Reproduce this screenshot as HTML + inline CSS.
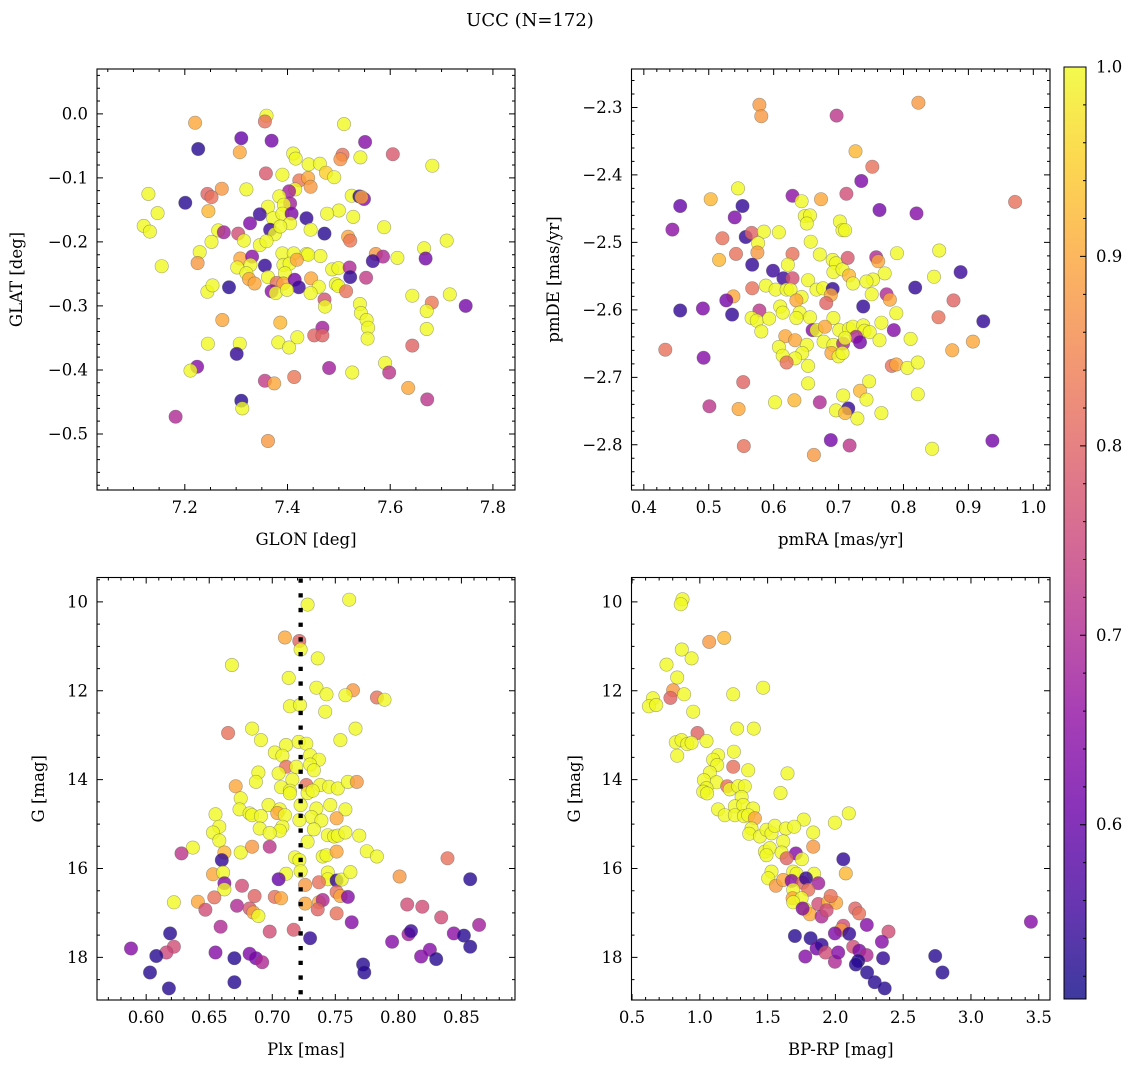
<!DOCTYPE html>
<html><head><meta charset="utf-8"><style>
html,body{margin:0;padding:0;background:#fff;}
svg text{font-family:"DejaVu Serif","Liberation Serif",serif;fill:#000;}
</style></head><body>
<svg id="fig" width="1136" height="1067" viewBox="0 0 1136 1067" xmlns="http://www.w3.org/2000/svg">
<text x="530" y="26" font-size="18" text-anchor="middle">UCC (N=172)</text>
</svg>
<script>
// ---- Panel 1: GLON vs GLAT ----
const p1x=[7.359,7.356,7.220,7.510,7.310,7.369,7.551,7.226,7.307,7.605,7.411,7.416,7.507,7.503,7.542,7.682,7.441,7.463,7.475,7.491,7.358,7.390,7.423,7.440,7.445,7.415,7.403,7.272,7.320,7.244,7.252,7.129,7.384,7.405,7.393,7.362,7.201,7.525,7.540,7.549,7.544,7.500,7.477,7.528,7.147,7.246,7.346,7.372,7.390,7.408,7.405,7.437,7.327,7.120,7.132,7.265,7.276,7.366,7.375,7.386,7.445,7.472,7.588,7.304,7.315,7.252,7.346,7.359,7.518,7.522,7.710,7.666,7.669,7.229,7.390,7.412,7.437,7.464,7.440,7.572,7.586,7.566,7.614,7.308,7.331,7.328,7.302,7.155,7.225,7.356,7.392,7.404,7.395,7.418,7.487,7.499,7.521,7.522,7.553,7.320,7.325,7.336,7.362,7.379,7.392,7.414,7.422,7.369,7.377,7.399,7.446,7.461,7.445,7.494,7.499,7.514,7.286,7.244,7.254,7.643,7.716,7.681,7.671,7.747,7.472,7.473,7.541,7.543,7.554,7.557,7.556,7.273,7.386,7.468,7.452,7.468,7.671,7.382,7.403,7.419,7.245,7.307,7.301,7.643,7.590,7.598,7.224,7.211,7.481,7.526,7.356,7.374,7.413,7.635,7.672,7.310,7.312,7.182,7.362];
const p1y=[-0.003,-0.012,-0.014,-0.016,-0.038,-0.042,-0.044,-0.055,-0.060,-0.063,-0.062,-0.070,-0.064,-0.071,-0.068,-0.081,-0.079,-0.078,-0.092,-0.099,-0.093,-0.095,-0.104,-0.100,-0.114,-0.118,-0.121,-0.117,-0.118,-0.125,-0.130,-0.125,-0.129,-0.140,-0.142,-0.145,-0.139,-0.128,-0.129,-0.133,-0.130,-0.151,-0.156,-0.161,-0.155,-0.152,-0.157,-0.163,-0.156,-0.156,-0.171,-0.163,-0.171,-0.175,-0.184,-0.182,-0.185,-0.181,-0.188,-0.176,-0.181,-0.187,-0.177,-0.187,-0.198,-0.200,-0.205,-0.199,-0.192,-0.198,-0.198,-0.210,-0.226,-0.216,-0.218,-0.218,-0.219,-0.222,-0.220,-0.219,-0.223,-0.230,-0.225,-0.226,-0.223,-0.236,-0.240,-0.238,-0.233,-0.237,-0.236,-0.234,-0.249,-0.228,-0.243,-0.241,-0.240,-0.255,-0.256,-0.249,-0.258,-0.265,-0.255,-0.264,-0.265,-0.259,-0.271,-0.277,-0.280,-0.275,-0.257,-0.270,-0.280,-0.266,-0.269,-0.277,-0.271,-0.278,-0.268,-0.284,-0.282,-0.295,-0.308,-0.300,-0.290,-0.301,-0.297,-0.311,-0.322,-0.334,-0.351,-0.322,-0.326,-0.334,-0.346,-0.346,-0.336,-0.357,-0.365,-0.349,-0.359,-0.359,-0.375,-0.362,-0.389,-0.404,-0.395,-0.401,-0.397,-0.404,-0.417,-0.421,-0.411,-0.428,-0.446,-0.448,-0.460,-0.473,-0.511];
const p1c=[1,0.82,0.9,1,0.6,0.62,0.64,0.53,0.9,0.78,1,1,0.82,0.87,1,1,1,1,0.95,1,0.78,1,0.83,0.9,0.88,1,0.68,0.88,1,0.8,0.82,1,1,0.68,1,1,0.53,1,0.54,0.64,0.9,1,1,1,1,0.92,0.55,1,1,0.63,1,0.54,0.63,1,1,1,0.68,0.55,1,1,1,0.53,1,0.76,1,1,1,1,0.9,0.83,1,1,0.62,1,1,1,1,1,1,0.88,0.7,0.55,1,0.9,0.65,1,1,1,0.88,0.54,1,1,1,0.9,1,1,0.7,0.54,0.73,1,0.9,0.9,1,0.82,0.9,0.62,0.55,0.65,1,1,0.9,1,1,1,1,0.82,0.53,1,1,1,1,0.83,1,0.62,0.77,1,1,1,1,1,1,0.9,0.92,0.68,0.8,0.8,1,1,1,1,1,1,0.54,0.8,1,0.72,0.64,1,0.68,1,0.73,0.9,0.83,0.9,0.72,0.53,1,0.7,0.88];
const p1xTicks=[7.2,7.4,7.6,7.8];
const p1yTicks=[0.0,-0.1,-0.2,-0.3,-0.4,-0.5];

// ---- Panel 2: pmRA vs pmDE ----
const p2x=[0.578,0.581,0.823,0.697,0.726,0.752,0.735,0.545,0.503,0.456,0.552,0.629,0.643,0.673,0.712,0.972,0.763,0.820,0.540,0.444,0.648,0.656,0.651,0.702,0.706,0.710,0.521,0.557,0.566,0.585,0.608,0.576,0.657,0.542,0.575,0.516,0.629,0.790,0.855,0.567,0.599,0.615,0.629,0.622,0.671,0.691,0.696,0.692,0.706,0.716,0.722,0.714,0.758,0.761,0.771,0.753,0.743,0.847,0.888,0.653,0.666,0.676,0.818,0.588,0.603,0.620,0.626,0.567,0.538,0.527,0.691,0.688,0.681,0.643,0.635,0.640,0.751,0.774,0.779,0.877,0.738,0.456,0.491,0.536,0.610,0.614,0.635,0.656,0.578,0.566,0.574,0.593,0.581,0.692,0.789,0.766,0.854,0.923,0.660,0.666,0.679,0.701,0.716,0.722,0.738,0.740,0.748,0.727,0.733,0.785,0.811,0.763,0.618,0.633,0.677,0.692,0.707,0.710,0.651,0.608,0.644,0.614,0.633,0.689,0.700,0.706,0.433,0.492,0.907,0.875,0.620,0.653,0.782,0.789,0.806,0.822,0.553,0.653,0.747,0.733,0.743,0.707,0.822,0.602,0.632,0.671,0.501,0.546,0.715,0.696,0.710,0.729,0.766,0.688,0.717,0.554,0.662,0.844,0.937];
const p2y=[-2.296,-2.313,-2.293,-2.312,-2.365,-2.388,-2.409,-2.420,-2.436,-2.446,-2.446,-2.431,-2.439,-2.436,-2.428,-2.440,-2.452,-2.457,-2.463,-2.481,-2.461,-2.460,-2.472,-2.469,-2.482,-2.482,-2.494,-2.492,-2.486,-2.484,-2.485,-2.501,-2.499,-2.517,-2.515,-2.526,-2.517,-2.516,-2.512,-2.533,-2.542,-2.553,-2.553,-2.533,-2.518,-2.526,-2.531,-2.544,-2.540,-2.549,-2.561,-2.523,-2.522,-2.528,-2.546,-2.555,-2.558,-2.551,-2.544,-2.556,-2.570,-2.568,-2.567,-2.564,-2.570,-2.570,-2.570,-2.568,-2.580,-2.586,-2.569,-2.578,-2.590,-2.581,-2.586,-2.604,-2.577,-2.577,-2.585,-2.586,-2.595,-2.601,-2.598,-2.607,-2.595,-2.604,-2.612,-2.611,-2.601,-2.612,-2.616,-2.613,-2.632,-2.612,-2.605,-2.619,-2.611,-2.617,-2.630,-2.630,-2.625,-2.630,-2.628,-2.625,-2.623,-2.631,-2.633,-2.640,-2.648,-2.630,-2.643,-2.645,-2.639,-2.645,-2.647,-2.652,-2.650,-2.642,-2.652,-2.655,-2.664,-2.668,-2.672,-2.664,-2.669,-2.664,-2.659,-2.671,-2.647,-2.660,-2.678,-2.683,-2.683,-2.681,-2.686,-2.678,-2.707,-2.709,-2.706,-2.720,-2.733,-2.727,-2.725,-2.737,-2.734,-2.737,-2.743,-2.747,-2.746,-2.749,-2.753,-2.761,-2.753,-2.793,-2.801,-2.802,-2.815,-2.806,-2.794];
const p2c=[0.88,0.88,0.88,0.72,0.92,0.82,0.63,1,0.92,0.6,0.54,0.65,1,0.9,0.76,0.82,0.62,0.64,0.63,0.65,1,1,1,1,1,1,0.82,0.54,0.8,1,1,1,1,0.82,0.88,0.92,0.82,1,1,0.54,0.55,0.55,0.77,1,1,1,1,1,1,0.92,1,0.78,0.7,0.9,1,1,1,1,0.55,1,1,1,0.54,1,1,1,1,0.82,0.9,0.62,0.54,0.9,0.8,1,0.9,1,1,0.7,0.9,0.8,0.54,0.54,0.63,0.54,1,1,1,1,0.72,1,1,1,1,1,1,1,0.82,0.54,0.64,1,0.9,1,1,1,1,1,1,0.7,0.62,0.64,1,1,0.9,0.9,1,1,0.7,1,1,1,1,1,1,0.9,1,1,0.82,0.64,0.9,0.9,0.82,1,0.82,0.9,1,1,0.8,1,1,0.92,1,1,1,1,0.92,0.7,0.72,0.9,0.54,1,0.92,1,1,0.62,0.72,0.82,0.88,1,0.62];
const p2xTicks=[0.4,0.5,0.6,0.7,0.8,0.9,1.0];
const p2yTicks=[-2.3,-2.4,-2.5,-2.6,-2.7,-2.8];

// ---- Panel 3: Plx vs G ----
const p3x=[0.761,0.728,0.710,0.7214,0.7225,0.736,0.668,0.713,0.735,0.743,0.764,0.758,0.783,0.789,0.714,0.722,0.742,0.665,0.684,0.691,0.766,0.754,0.711,0.721,0.727,0.702,0.708,0.711,0.719,0.730,0.737,0.730,0.733,0.689,0.705,0.687,0.716,0.727,0.738,0.745,0.752,0.760,0.767,0.671,0.675,0.674,0.707,0.714,0.714,0.728,0.732,0.7225,0.697,0.706,0.704,0.682,0.684,0.691,0.710,0.708,0.706,0.735,0.746,0.758,0.731,0.739,0.751,0.7215,0.655,0.658,0.653,0.658,0.690,0.698,0.733,0.744,0.749,0.752,0.758,0.769,0.728,0.637,0.628,0.662,0.660,0.675,0.684,0.698,0.775,0.783,0.839,0.718,0.7215,0.740,0.743,0.751,0.653,0.661,0.711,0.7225,0.705,0.744,0.744,0.737,0.751,0.755,0.762,0.726,0.801,0.857,0.662,0.662,0.676,0.654,0.641,0.622,0.686,0.702,0.707,0.751,0.754,0.760,0.726,0.737,0.740,0.736,0.807,0.819,0.647,0.672,0.682,0.685,0.689,0.751,0.763,0.834,0.864,0.659,0.698,0.717,0.619,0.622,0.616,0.608,0.588,0.603,0.618,0.655,0.682,0.687,0.692,0.670,0.670,0.730,0.772,0.773,0.795,0.808,0.810,0.818,0.825,0.830,0.844,0.852,0.857];
const p3y=[9.95,10.06,10.80,10.88,11.07,11.27,11.42,11.71,11.93,12.08,11.99,12.10,12.15,12.20,12.35,12.32,12.47,12.95,12.85,13.11,12.85,13.11,13.22,13.15,13.19,13.39,13.46,13.71,13.71,13.45,13.55,13.66,13.79,13.84,13.86,14.05,14.00,14.12,14.12,14.16,14.20,14.05,14.05,14.15,14.42,14.67,14.17,14.25,14.31,14.30,14.25,14.57,14.57,14.67,14.75,14.76,14.80,14.82,14.80,15.06,15.15,14.65,14.57,14.67,14.84,14.92,14.87,14.91,14.78,15.06,15.19,15.37,15.10,15.20,15.12,15.25,15.28,15.26,15.19,15.26,15.40,15.53,15.66,15.64,15.81,15.64,15.51,15.51,15.61,15.73,15.77,15.75,15.81,15.73,15.70,15.62,16.13,16.09,16.12,16.06,16.24,16.09,16.24,16.31,16.27,16.25,16.08,16.37,16.18,16.24,16.33,16.47,16.39,16.65,16.75,16.76,16.62,16.64,16.67,16.53,16.62,16.64,16.79,16.76,16.71,16.92,16.81,16.86,16.93,16.84,16.90,16.99,17.07,17.01,17.21,17.10,17.27,17.31,17.42,17.38,17.46,17.76,17.89,17.97,17.80,18.34,18.70,17.89,17.92,18.02,18.11,18.02,18.56,17.57,18.16,18.34,17.65,17.48,17.41,17.98,17.83,18.04,17.46,17.51,17.76];
const p3c=[1,1,0.9,0.8,1,1,1,1,1,1,0.88,1,0.82,1,1,1,1,0.82,1,1,1,1,1,1,1,1,1,0.82,1,1,1,1,1,1,1,1,1,0.82,1,1,1,1,0.88,0.9,1,1,1,1,1,1,1,1,1,1,0.9,1,1,1,1,1,1,1,1,1,1,1,0.9,1,1,1,1,1,1,1,1,1,1,1,1,1,1,1,0.72,0.92,0.54,1,0.88,0.72,1,1,0.82,1,1,1,1,0.9,0.9,1,1,1,0.6,1,1,0.82,0.54,1,1,0.88,0.88,0.53,0.64,1,0.76,0.82,0.9,1,0.8,0.82,0.9,0.82,0.9,0.64,0.9,0.9,0.7,0.8,0.76,0.76,0.76,0.7,0.78,0.9,1,0.82,0.64,0.76,0.68,0.7,0.76,0.78,0.53,0.76,0.75,0.53,0.64,0.53,0.53,0.64,0.63,0.62,0.7,0.53,0.53,0.54,0.53,0.53,0.64,0.68,0.55,0.64,0.64,0.53,0.65,0.53,0.53];
const p3xTicks=[0.60,0.65,0.70,0.75,0.80,0.85];
const p3yTicks=[10,12,14,16,18];
const p3vline=[0.7225];

// ---- Panel 4: BP-RP vs G ----
const p4x=[0.872,0.860,1.069,1.180,0.867,0.939,0.754,0.833,0.803,0.783,0.884,0.654,0.624,0.678,1.246,1.467,0.951,0.983,1.275,1.398,0.823,0.865,0.907,0.939,1.049,0.833,1.251,1.246,1.135,1.098,1.128,1.074,1.123,1.357,1.647,1.030,1.049,1.025,1.054,1.202,1.221,1.283,1.332,1.308,1.595,1.135,1.184,1.259,1.259,1.320,1.325,1.393,1.357,1.406,1.767,1.996,2.099,1.381,1.364,1.443,1.492,1.529,1.553,1.634,1.696,1.836,1.836,1.615,1.480,1.516,1.492,1.603,1.709,1.640,1.753,2.058,2.077,1.689,1.714,1.843,1.529,1.504,1.561,1.615,1.677,1.758,1.783,1.874,1.689,1.800,1.684,1.751,1.689,1.776,1.812,1.758,1.874,1.898,1.948,2.005,1.965,1.935,2.146,2.175,2.232,2.058,2.042,1.996,2.102,2.392,2.343,3.442,1.701,1.817,1.861,1.898,1.927,1.778,1.996,2.021,2.131,2.176,2.230,2.168,2.151,2.352,2.234,2.290,2.364,2.736,2.790];
const p4y=[9.94,10.05,10.90,10.81,11.07,11.27,11.41,11.70,11.99,12.16,12.08,12.17,12.35,12.32,12.08,11.93,12.47,12.95,12.85,12.85,13.16,13.11,13.20,13.17,13.13,13.46,13.37,13.71,13.45,13.55,13.67,13.84,14.06,13.79,13.86,14.01,14.19,14.27,14.31,14.15,14.22,14.15,14.15,14.39,14.30,14.67,14.80,14.60,14.80,14.57,14.82,14.65,14.80,14.87,14.90,14.97,14.76,15.10,15.22,15.28,15.13,15.21,15.04,15.10,15.06,15.19,15.51,15.39,15.62,15.54,15.70,15.64,15.66,15.77,15.79,15.79,16.11,16.07,16.12,16.12,16.07,16.22,16.39,16.26,16.28,16.32,16.22,16.33,16.48,16.48,16.67,16.67,16.76,16.92,17.03,16.90,16.80,17.08,16.75,16.77,16.62,16.94,16.90,17.01,17.27,17.29,17.38,17.46,17.47,17.42,17.65,17.20,17.52,17.57,17.80,17.72,17.89,17.98,18.10,17.89,17.76,17.85,17.95,18.08,18.16,18.02,18.34,18.56,18.70,17.97,18.34];
const p4c=[1,1,0.88,0.92,1,1,1,1,0.88,0.8,1,1,1,1,1,1,1,0.8,1,1,1,1,1,1,1,1,1,0.82,1,1,1,1,1,1,1,1,1,1,1,0.82,1,1,1,1,1,1,1,1,1,1,1,1,1,0.9,1,1,1,1,1,1,1,1,1,1,1,1,0.88,1,1,1,1,1,0.64,0.8,1,0.54,0.92,1,1,1,1,1,0.88,0.9,0.64,0.8,0.54,0.68,1,0.82,0.9,1,1,1,0.9,0.64,0.76,0.7,0.92,0.9,0.82,0.76,0.8,0.82,0.64,0.76,0.88,0.63,0.54,0.76,0.64,0.64,0.53,0.53,0.62,0.54,0.76,0.64,0.7,0.64,0.76,0.63,0.7,0.53,0.53,0.54,0.53,0.53,0.53,0.53,0.53];
const p4xTicks=[0.5,1.0,1.5,2.0,2.5,3.0,3.5];
const p4yTicks=[10,12,14,16,18];

// ---- Colorbar ----
const cbTicks=[1.0,0.9,0.8,0.7,0.6];
const cbMin=0.508, cbMax=1.0;

const NS='http://www.w3.org/2000/svg';
const svg=document.getElementById('fig');
function mk(tag,attrs,parent){const e=document.createElementNS(NS,tag);for(const k in attrs)e.setAttribute(k,attrs[k]);(parent||svg).appendChild(e);return e;}
const plasma=['#0d0887','#41049d','#6a00a8','#8f0da4','#b12a90','#cc4778','#e16462','#f2844b','#fca636','#fcce25','#f0f921'];
function hex(h){return [parseInt(h.slice(1,3),16),parseInt(h.slice(3,5),16),parseInt(h.slice(5,7),16)];}
function cmap(v){let t=(v-cbMin)/(cbMax-cbMin);t=Math.max(0,Math.min(1,t));const f=t*10,i=Math.min(9,Math.floor(f)),r=f-i;const a=hex(plasma[i]),b=hex(plasma[i+1]);return 'rgb('+a.map((x,k)=>Math.round(x+(b[k]-x)*r)).join(',')+')';}
function fmt(v,d){return v.toFixed(d).replace('-','\u2212');}

function panel(cfg){
  const {L,R,T,B,xmin,xmax,ymin,ymax,inv}=cfg;
  const g=mk('g',{});
  
  
  const sx=v=>L+(v-xmin)/(xmax-xmin)*(R-L);
  const sy=inv?(v=>T+(v-ymin)/(ymax-ymin)*(B-T)):(v=>B-(v-ymin)/(ymax-ymin)*(B-T));
  const mg=mk('g',{},g);
  
  
  for(let i=0;i<cfg.xs.length;i++){
    const c=mk('circle',{cx:sx(cfg.xs[i]).toFixed(1),cy:sy(cfg.ys[i]).toFixed(1),r:6.7,fill:cmap(cfg.cs[i]),'fill-opacity':0.8,stroke:'#555','stroke-opacity':0.5,'stroke-width':0.6},mg);
    
    
  }
  if(cfg.vline){
    const l=mk('line',{x1:sx(cfg.vline[0]),x2:sx(cfg.vline[0]),y1:T+1,y2:B,stroke:'#000','stroke-width':4.3,'stroke-dasharray':'4.3 10.4'},g);
    
    
  }
  const fr=mk('rect',{x:L,y:T,width:R-L,height:B-T,fill:'none',stroke:'#000','stroke-width':1.1},g);
  
  
  let p='';
  const xs0=Math.ceil(Math.min(xmin,xmax)/cfg.xminor-1e-6);
  for(let k=xs0;k*cfg.xminor<=xmax+1e-9;k++){const x=sx(k*cfg.xminor);p+=`M${x} ${B}v-3M${x} ${T}v3`;}
  const lo=Math.min(ymin,ymax),hi=Math.max(ymin,ymax);
  for(let k=Math.ceil(lo/cfg.yminor-1e-6);k*cfg.yminor<=hi+1e-9;k++){const y=sy(k*cfg.yminor);p+=`M${L} ${y}h3M${R} ${y}h-3`;}
  for(const v of cfg.xticks){const x=sx(v);p+=`M${x} ${B}v-6M${x} ${T}v6`;}
  for(const v of cfg.yticks){const y=sy(v);p+=`M${L} ${y}h6M${R} ${y}h-6`;}
  const tk=mk('path',{d:p,stroke:'#000','stroke-width':1,fill:'none'},g);
  
  
  for(const v of cfg.xticks){
    const t=mk('text',{x:sx(v),y:B+23,'font-size':16.5,'text-anchor':'middle'},g);t.textContent=fmt(v,cfg.xd);
    
    
  }
  for(const v of cfg.yticks){
    const t=mk('text',{x:L-9,y:sy(v)+5.5,'font-size':16.5,'text-anchor':'end'},g);t.textContent=fmt(v,cfg.yd);
    
    
  }
  const xl=mk('text',{x:(L+R)/2,y:B+55,'font-size':16.5,'text-anchor':'middle'},g);xl.textContent=cfg.xlabel;
  
  
  const yx=cfg.ylx, yy=(T+B)/2;
  const yl=mk('text',{x:yx,y:yy,'font-size':16.5,'text-anchor':'middle',transform:`rotate(-90 ${yx} ${yy})`},g);yl.textContent=cfg.ylabel;
  
  
}

panel({name:'glon-glat-panel',L:97,R:515,T:69,B:490,xmin:7.029,xmax:7.843,ymin:-0.5875,ymax:0.070,xs:p1x,ys:p1y,cs:p1c,xticks:p1xTicks,yticks:p1yTicks,xminor:0.05,yminor:0.02,xd:1,yd:1,xlabel:'GLON [deg]',ylabel:'GLAT [deg]',ylx:22});
panel({name:'proper-motion-panel',L:631.5,R:1050,T:69,B:490,xmin:0.381,xmax:1.0257,ymin:-2.867,ymax:-2.243,xs:p2x,ys:p2y,cs:p2c,xticks:p2xTicks,yticks:p2yTicks,xminor:0.02,yminor:0.02,xd:1,yd:1,xlabel:'pmRA [mas/yr]',ylabel:'pmDE [mas/yr]',ylx:559});
panel({name:'parallax-panel',L:97,R:515,T:577.5,B:1000,xmin:0.561,xmax:0.8925,ymin:9.45,ymax:18.96,inv:true,xs:p3x,ys:p3y,cs:p3c,xticks:p3xTicks,yticks:p3yTicks,xminor:0.01,yminor:0.5,xd:2,yd:0,xlabel:'Plx [mas]',ylabel:'G [mag]',ylx:44,vline:p3vline});
panel({name:'cmd-panel',L:631.5,R:1050,T:577.5,B:1000,xmin:0.496,xmax:3.583,ymin:9.45,ymax:18.96,inv:true,xs:p4x,ys:p4y,cs:p4c,xticks:p4xTicks,yticks:p4yTicks,xminor:0.1,yminor:0.5,xd:1,yd:0,xlabel:'BP-RP [mag]',ylabel:'G [mag]',ylx:580});

(function(){
  const L=1064,R=1086,T=67,B=999;
  const g=mk('g',{});
  
  
  const defs=mk('defs',{},g);
  const lg=mk('linearGradient',{id:'cbg',x1:0,y1:1,x2:0,y2:0},defs);
  for(let i=0;i<=20;i++){const v=cbMin+(cbMax-cbMin)*i/20;mk('stop',{offset:i/20,'stop-color':cmap(v),'stop-opacity':0.8},lg);}
  const r=mk('rect',{x:L,y:T,width:R-L,height:B-T,fill:'url(#cbg)',stroke:'#000','stroke-width':1},g);
  
  
  const sy=v=>B-(v-cbMin)/(cbMax-cbMin)*(B-T);
  let p='';
  for(let k=Math.ceil(cbMin/0.02);k*0.02<=cbMax+1e-9;k++){p+=`M${R} ${sy(k*0.02)}h-3`;}
  for(const v of cbTicks){p+=`M${R} ${sy(v)}h-6`;}
  const tk=mk('path',{d:p,stroke:'#000','stroke-width':1},g);
  
  
  for(const v of cbTicks){
    const t=mk('text',{x:R+10,y:sy(v)+5.5,'font-size':16.5},g);t.textContent=v.toFixed(1);
    
    
  }
})();
</script>
</body></html>
